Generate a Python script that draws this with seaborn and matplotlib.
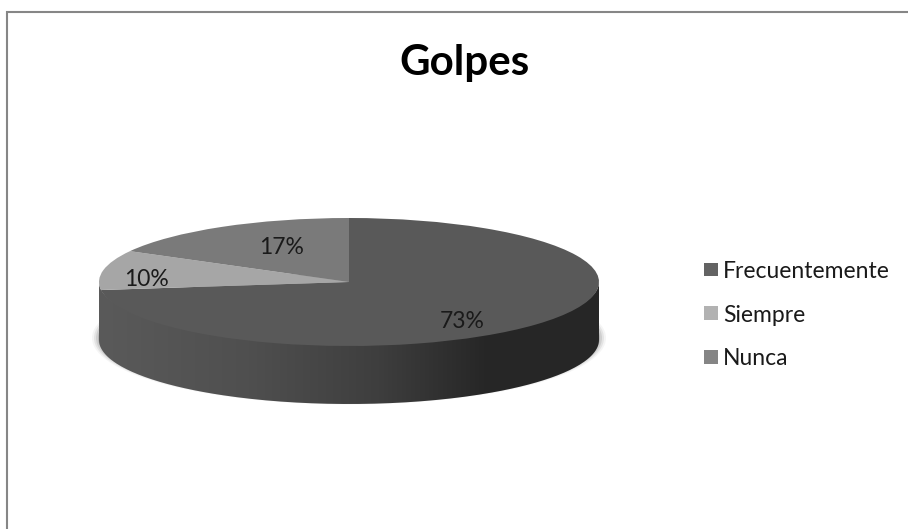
import numpy as np
import matplotlib
matplotlib.use("Agg")
import matplotlib.pyplot as plt
from matplotlib.colors import LinearSegmentedColormap
from matplotlib.patches import Ellipse, Patch, PathPatch
from matplotlib.path import Path
import seaborn as sns

# Data
title = "Golpes"
categories = ["Frecuentemente", "Siempre", "Nunca"]
percent = [73, 10, 17]
top_colors = ["#595959", "#a6a6a6", "#7a7a7a"]
legend_colors = ["#636363", "#b2b2b2", "#858585"]

# Layout (pixels in the 908x529 figure)
W, H = 908, 529
cx, cy, rx, ry, depth = 349, 282, 250, 64, 58
label_xy = [(462, 322), (146, 280), (282, 248)]

sns.set_theme(style="white")
plt.rcParams["font.family"] = ["Lato", "DejaVu Sans"]

fig = plt.figure(figsize=(W / 100, H / 100), dpi=100, facecolor="white")

# Back layer, in pixel coordinates
back = fig.add_axes([0, 0, 1, 1])
back.set_xlim(0, W)
back.set_ylim(H, 0)
back.axis("off")
back.plot([6.5, 6.5, W + 5], [H + 5, 12, 12], color="#868686", lw=1.5, solid_joinstyle="miter")

# Soft shadow under the pie
for grow, a in zip([7, 5, 3, 1], [0.06, 0.10, 0.14, 0.2]):
    back.add_patch(Ellipse((cx, cy + depth - 2), 2 * (rx + grow), 2 * (ry + grow * 0.35),
                           fc="#555555", ec="none", alpha=a))

# Side wall with a horizontal shading
t = np.linspace(np.pi, 2 * np.pi, 200)
ex = cx + rx * np.cos(t)
low = cy - ry * np.sin(t) + depth
high = cy - (ry - 3) * np.sin(t)
verts = np.vstack([np.c_[ex, low], np.c_[ex[::-1], high[::-1]], [ex[0], low[0]]])
wall = PathPatch(Path(verts), fc="none", ec="none", transform=back.transData)
back.add_patch(wall)
shade = LinearSegmentedColormap.from_list(
    "wall", [(0, "#5a5a5a"), (0.3, "#4f4f4f"), (0.56, "#3e3e3e"), (0.78, "#262626"), (1, "#272727")])
img = back.imshow(np.linspace(0, 1, 256)[None, :], cmap=shade, vmin=0, vmax=1, aspect="auto",
                  extent=(cx - rx, cx + rx, cy + ry + depth, cy - ry), zorder=2)
img.set_clip_path(wall)
back.set_xlim(0, W)
back.set_ylim(H, 0)

# Top face: a pie squeezed into the ellipse by its axes
ax = fig.add_axes([(cx - rx) / W, 1 - (cy + ry) / H, 2 * rx / W, 2 * ry / H])
ax.patch.set_alpha(0)
ax.pie(percent, colors=sns.color_palette(top_colors), startangle=90, counterclock=False,
       radius=1, wedgeprops={"linewidth": 0})
ax.set_aspect("auto")
ax.set_xlim(-1, 1)
ax.set_ylim(-1, 1)

# Data labels
for value, (x, y) in zip(percent, label_xy):
    ax.text(x, y, f"{value}%", transform=back.transData, ha="center", va="center",
            fontsize=16.5, color="#1a1a1a", clip_on=False)

# Title and legend
fig.text(464.5 / W, 1 - 63 / H, title, ha="center", va="center", fontsize=30.3,
         fontweight="bold", color="black")
handles = [Patch(fc=c, ec="none") for c in legend_colors]
fig.legend(handles, categories, loc="center left", bbox_to_anchor=(704 / W, 1 - 315 / H),
           frameon=False, fontsize=16.5, labelspacing=1.0, handlelength=0.6,
           handleheight=0.55, handletextpad=0.22, borderpad=0, borderaxespad=0,
           labelcolor="#1a1a1a")

fig.savefig("out.png", dpi=100, facecolor="white")
